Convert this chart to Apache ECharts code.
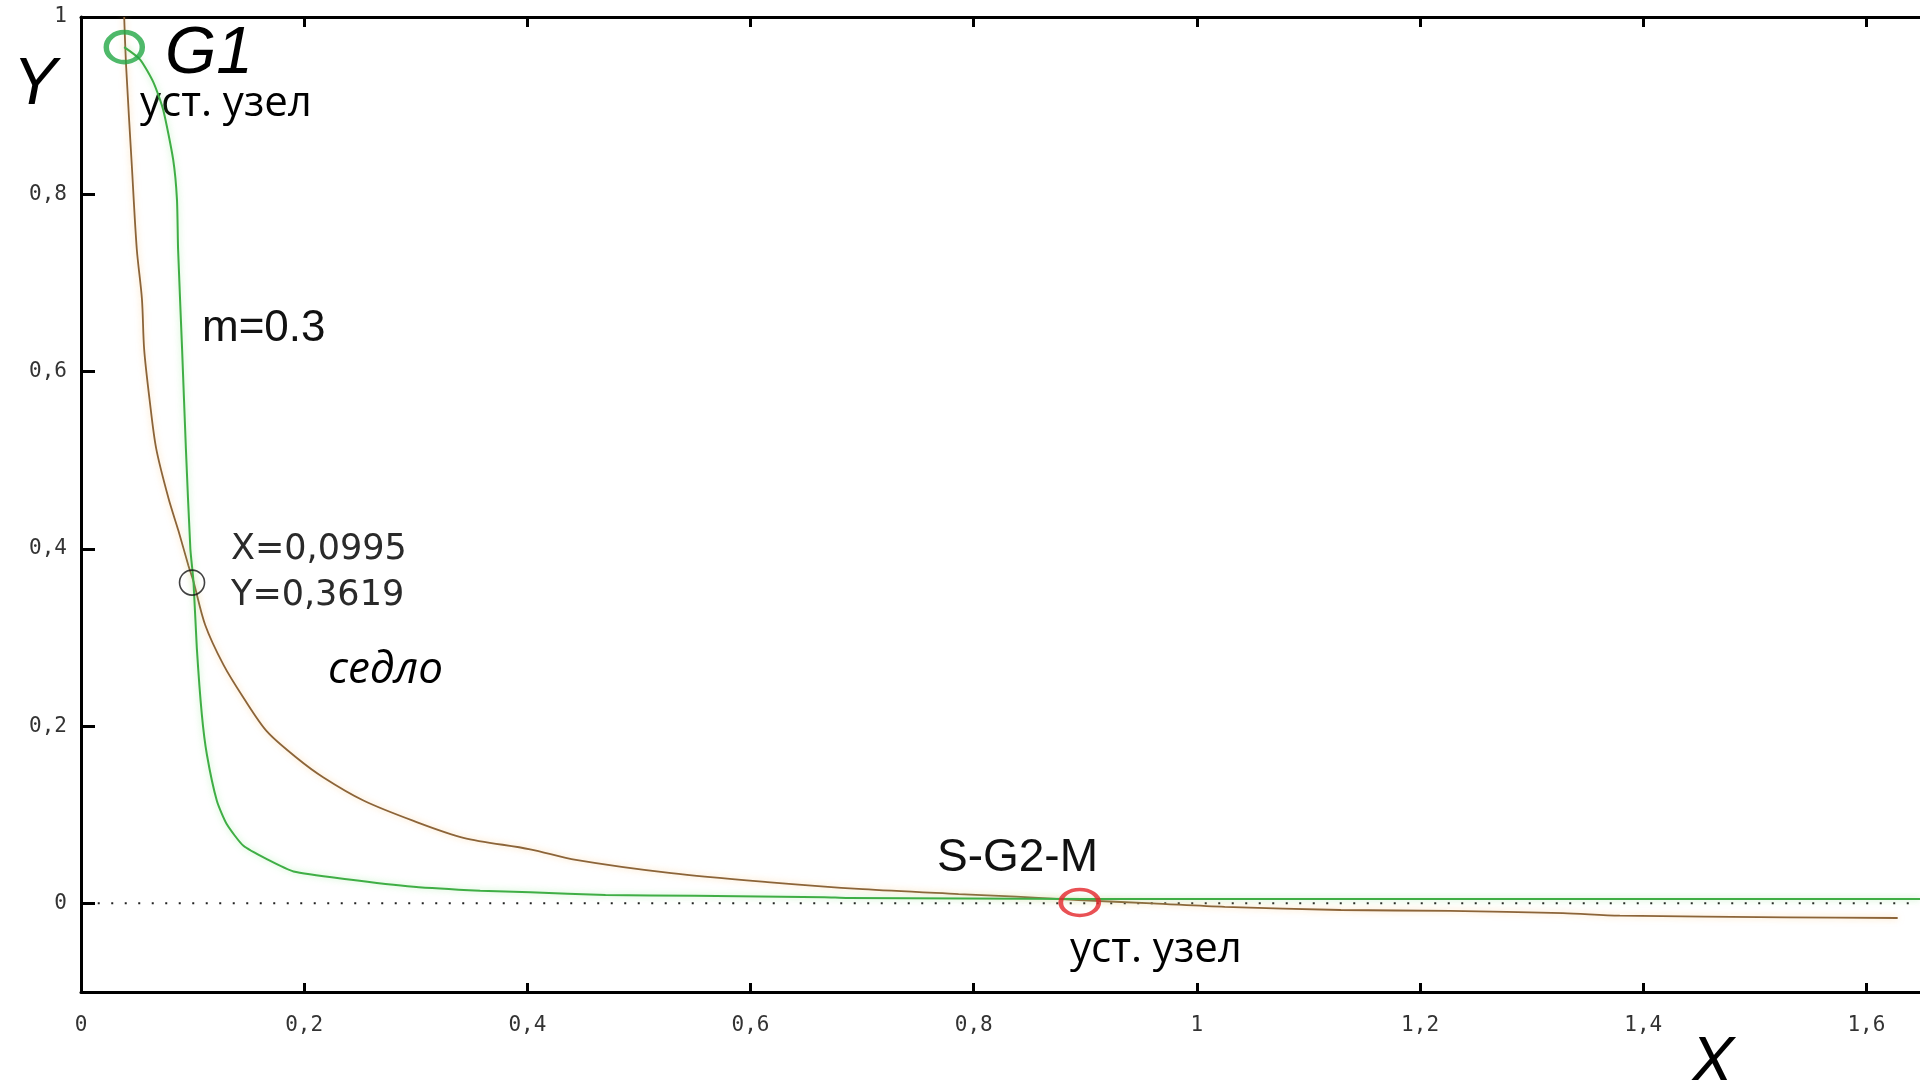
<!DOCTYPE html>
<html><head><meta charset="utf-8">
<script src="https://cdn.jsdelivr.net/npm/echarts@6/dist/echarts.min.js"></script>
<style>html,body{margin:0;padding:0;background:#fff}#c{width:1920px;height:1080px}</style>
</head><body><div id="c"></div>
<script>
// ---- data ----
const xTicks = [0, 0.2, 0.4, 0.6, 0.8, 1, 1.2, 1.4, 1.6];
const yTicks = [0, 0.2, 0.4, 0.6, 0.8, 1];

const brownX = [0.0387,0.0405,0.0456,0.0500,0.0546,0.0566,0.0614,0.0674,0.0784,0.0874,0.0963,0.1008,0.1113,0.1277,0.1456,0.1666,0.1935,0.2173,0.2531,0.2980,0.3427,0.4025,0.4435,0.5290,0.6150,0.7006,0.7864,0.8380,0.8940,0.9600,1.0250,1.1290,1.2270,1.3280,1.3790,1.5290,1.6280];
const brownY = [1.000,0.943,0.831,0.738,0.682,0.625,0.569,0.513,0.457,0.420,0.381,0.363,0.314,0.269,0.232,0.194,0.164,0.142,0.116,0.093,0.074,0.061,0.049,0.034,0.024,0.016,0.0105,0.0075,0.0037,0.0,-0.004,-0.0075,-0.0085,-0.011,-0.0139,-0.0157,-0.0165];

const greenX = [0.0387,0.0530,0.0650,0.0737,0.0826,0.0860,0.0870,0.0906,0.0940,0.0980,0.1008,0.1038,0.1083,0.1128,0.1218,0.1307,0.1456,0.1666,0.1904,0.2383,0.2980,0.3577,0.4025,0.4700,0.5500,0.6660,0.6870,0.9000,1.2000,1.6480];
const greenY = [0.966,0.952,0.926,0.895,0.839,0.794,0.738,0.625,0.513,0.400,0.363,0.288,0.213,0.168,0.1155,0.0892,0.0649,0.0498,0.036,0.0273,0.0188,0.0143,0.0124,0.0094,0.0085,0.0070,0.0060,0.0050,0.0050,0.0050];

const zeroX = [0.015, 1.648];
const zeroY = [0, 0];

const g1Node = [0.0388, 0.966];
const saddle = [0.0995, 0.3619];
const sg2mNode = [0.895, 0.001];

const zip = (a, b) => a.map((v, i) => [v, b[i]]);
const fmt = v => String(v).replace('.', ',');

const chart = echarts.init(document.getElementById('c'), null, {renderer: 'canvas'});

const axisLineStyle = {color: '#000', width: 3};
const tickFont = {fontFamily: 'DejaVu Sans Mono', fontSize: 21, color: '#333'};

const option = {
  animation: false,
  backgroundColor: '#fff',
  grid: {left: 81, top: 17, right: 0, bottom: 88, containLabel: false},
  xAxis: [{
    type: 'value', min: 0, max: 1.648, position: 'bottom',
    axisLine: {show: true, onZero: false, lineStyle: axisLineStyle},
    axisTick: {show: true, inside: true, length: 9, lineStyle: {color: '#000', width: 3}, customValues: xTicks},
    axisLabel: Object.assign({customValues: xTicks, formatter: fmt, margin: 23}, tickFont),
    splitLine: {show: false}
  }, {
    type: 'value', min: 0, max: 1.648, position: 'top',
    axisLine: {show: true, onZero: false, lineStyle: axisLineStyle},
    axisTick: {show: true, inside: true, length: 10, lineStyle: {color: '#000', width: 3}, customValues: xTicks},
    axisLabel: {show: false},
    splitLine: {show: false}
  }],
  yAxis: {
    type: 'value', min: -0.1, max: 1,
    axisLine: {show: true, onZero: false, lineStyle: axisLineStyle},
    axisTick: {show: true, inside: true, length: 14, lineStyle: {color: '#000', width: 3}, customValues: yTicks},
    axisLabel: Object.assign({customValues: yTicks, formatter: fmt, margin: 14}, tickFont),
    splitLine: {show: false}
  },
  series: [
    {type: 'line', data: zip(zeroX, zeroY), symbol: 'none', silent: true,
     lineStyle: {color: '#222', width: 2, type: [2, 11.5]}, z: 1},
    {type: 'line', data: zip(brownX, brownY), symbol: 'none', silent: true, smooth: 0.3,
     lineStyle: {color: '#8c6438', width: 1.8, shadowColor: 'rgba(250,190,110,0.6)', shadowBlur: 6}, z: 2},
    {type: 'line', data: zip(greenX, greenY), symbol: 'none', silent: true, smooth: 0.2,
     lineStyle: {color: '#3fae45', width: 2, shadowColor: 'rgba(140,230,140,0.6)', shadowBlur: 6}, z: 3},
    {type: 'scatter', data: [g1Node], symbol: 'circle', symbolSize: [36, 30], silent: true,
     itemStyle: {color: 'rgba(0,0,0,0)', borderColor: '#23a845', borderWidth: 5}, z: 5},
    {type: 'scatter', data: [saddle], symbol: 'circle', symbolSize: 25, silent: true,
     itemStyle: {color: 'rgba(0,0,0,0)', borderColor: '#111', borderWidth: 1.6}, z: 5},
    {type: 'scatter', data: [sg2mNode], symbol: 'circle', symbolSize: [38, 26], silent: true,
     itemStyle: {color: 'rgba(0,0,0,0)', borderColor: '#e3262b', borderWidth: 4}, z: 5}
  ],
  graphic: [
    {type: 'text', left: 165, top: 22, style: {text: 'G1', font: 'italic 66px "Liberation Sans"', fill: '#000'}},
    {type: 'text', left: 13, top: 53, style: {text: 'Y', font: 'italic 66px "Liberation Sans"', fill: '#000'}},
    {type: 'text', left: 140, top: 83, style: {text: 'уст. узел', font: '42px "Open Sans"', fill: '#000'}},
    {type: 'text', left: 202, top: 307, style: {text: 'm=0.3', font: '44px "Liberation Sans"', fill: '#111'}},
    {type: 'text', left: 231, top: 532, style: {text: 'X=0,0995', font: '35px "DejaVu Sans"', fill: '#2a2a2a'}},
    {type: 'text', left: 231, top: 578, style: {text: 'Y=0,3619', font: '35px "DejaVu Sans"', fill: '#2a2a2a'}},
    {type: 'text', left: 328, top: 648, style: {text: 'седло', font: 'italic 44px "Open Sans"', fill: '#000'}},
    {type: 'text', left: 937, top: 835, style: {text: 'S-G2-M', font: '46px "Liberation Sans"', fill: '#111'}},
    {type: 'text', left: 1070, top: 929, style: {text: 'уст. узел', font: '42px "Open Sans"', fill: '#000'}},
    {type: 'text', left: 1690, top: 1032, style: {text: 'X', font: 'italic 66px "Liberation Sans"', fill: '#000'}}
  ]
};
chart.setOption(option);
</script>
</body></html>
